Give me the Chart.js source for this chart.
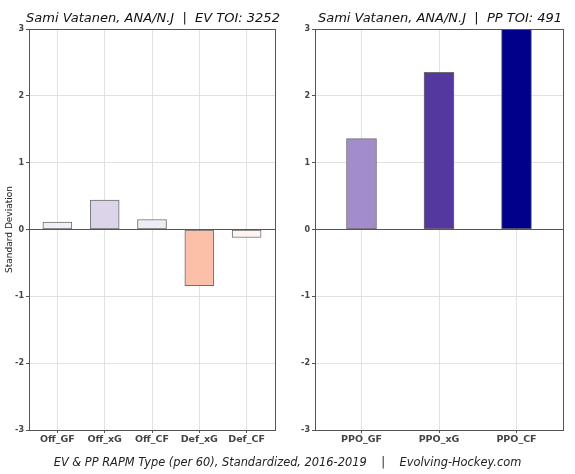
<!DOCTYPE html>
<html>
<head>
<meta charset="utf-8">
<script src="https://cdn.jsdelivr.net/npm/chart.js@4"></script>
<style>
  body { margin: 0; background: #fff; }
  #wrap { position: relative; width: 575px; height: 474px; }
  #ev { position: absolute; left: 0; top: 0; }
  #pp { position: absolute; left: 290px; top: 0; }
  #caption {
    position: absolute; left: 0; width: 575px; top: 455px;
    text-align: center; font: italic 11.4px "DejaVu Sans"; color: #222;
    white-space: pre;
  }
</style>
</head>
<body>
<div id="wrap">
  <canvas id="ev" width="290" height="474"></canvas>
  <canvas id="pp" width="285" height="474"></canvas>
  <div id="caption">EV &amp; PP RAPM Type (per 60), Standardized, 2016-2019    |    Evolving-Hockey.com</div>
</div>
<script>
const evCats = ['Off_GF', 'Off_xG', 'Off_CF', 'Def_xG', 'Def_CF']
const evVals = [0.11, 0.44, 0.15, -0.84, -0.12]
const evColors = ['#f0eef6', '#dcd5ea', '#eeecf5', '#fcbfa8', '#fff4ef']

const ppCats = ['PPO_GF', 'PPO_xG', 'PPO_CF']
const ppVals = [1.36, 2.35, 3.0]
const ppColors = ['#a38ccc', '#54379f', '#00008b']

const yTicks = [-3, -2, -1, 0, 1, 2, 3]

const font = 'DejaVu Sans'

// frame + title drawn on the canvas
const framePlugin = {
    id: 'frame',
    afterDatasetsDraw(chart) {
        const { ctx, chartArea: a } = chart
        ctx.save()
        ctx.strokeStyle = '#555'
        ctx.lineWidth = 1
        ctx.strokeRect(Math.round(a.left) + 0.5, Math.round(a.top) + 0.5,
            Math.round(a.right - a.left), Math.round(a.bottom - a.top))
        ctx.restore()
    },
    afterDraw(chart, args, opts) {
        const { ctx, chartArea: a } = chart
        ctx.save()
        ctx.font = 'italic 13px "' + font + '"'
        ctx.fillStyle = '#111'
        ctx.textAlign = 'center'
        ctx.textBaseline = 'alphabetic'
        ctx.fillText(opts.text, (a.left + a.right) / 2 + 1, 22)
        ctx.restore()
    }
}

function makeChart(id, cats, vals, colors, o) {
    const ctx = document.getElementById(id).getContext('2d')
    return new Chart(ctx, {
        type: 'bar',
        data: {
            datasets: [{
                data: cats.map((c, i) => ({ x: i, y: vals[i] })),
                backgroundColor: colors,
                borderColor: '#6e6e6e',
                borderWidth: 1,
                borderSkipped: false,
                barThickness: o.barPx,
            }]
        },
        plugins: [framePlugin],
        options: {
            responsive: false,
            animation: false,
            layout: { padding: { top: 29, right: o.padRight, left: 0, bottom: 0 } },
            plugins: {
                legend: { display: false },
                tooltip: { enabled: false },
                frame: { text: o.title },
            },
            scales: {
                x: {
                    type: 'linear',
                    offset: false,
                    min: -0.6,
                    max: cats.length - 0.4,
                    afterBuildTicks: (s) => { s.ticks = cats.map((c, i) => ({ value: i })) },
                    afterFit: (s) => { s.height = 44 },
                    ticks: {
                        autoSkip: false,
                        maxRotation: 0,
                        padding: 1,
                        color: '#444',
                        font: { family: font, size: 9.5, weight: 'bold' },
                        callback: (v) => cats[v],
                    },
                    grid: { color: '#e2e2e2', tickColor: '#555', tickLength: 3, offset: false },
                    border: { display: false },
                },
                y: {
                    min: -3,
                    max: 3,
                    afterBuildTicks: (s) => { s.ticks = yTicks.map(v => ({ value: v })) },
                    afterFit: (s) => { s.width = o.axisWidth },
                    ticks: {
                        padding: 2,
                        color: '#444',
                        font: { family: font, size: 8, weight: 'bold' },
                    },
                    grid: {
                        color: (c) => c.tick && c.tick.value === 0 ? '#555' : '#e2e2e2',
                        tickColor: '#555',
                        tickLength: 3,
                    },
                    border: { display: false },
                    title: {
                        display: !!o.yTitle,
                        text: o.yTitle,
                        color: '#222',
                        padding: { top: 4, bottom: 0 },
                        font: { family: font, size: 9 },
                    },
                },
            },
        },
    })
}

makeChart('ev', evCats, evVals, evColors, {
    title: 'Sami Vatanen, ANA/N.J  |  EV TOI: 3252',
    yTitle: 'Standard Deviation',
    axisWidth: 29,
    padRight: 15,
    barPx: 29,
})

makeChart('pp', ppCats, ppVals, ppColors, {
    title: 'Sami Vatanen, ANA/N.J  |  PP TOI: 491',
    yTitle: '',
    axisWidth: 25,
    padRight: 12,
    barPx: 30,
})
</script>
</body>
</html>
